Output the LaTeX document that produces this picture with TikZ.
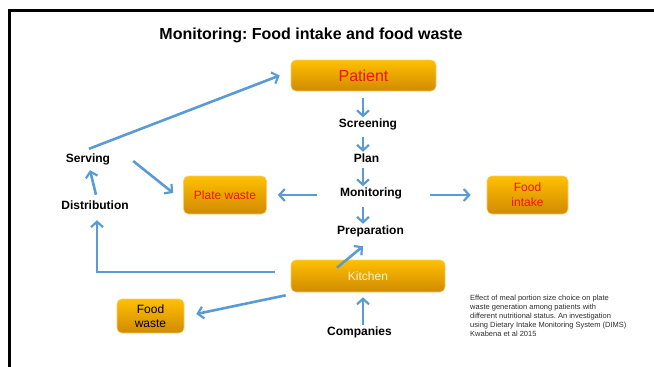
\documentclass[tikz,border=0pt]{standalone}
\usepackage{fontspec}
\setmainfont{Liberation Sans}
\usetikzlibrary{arrows.meta}
\frenchspacing

\definecolor{arrowblue}{RGB}{91,155,213}
\definecolor{boxtop}{RGB}{255,192,0}
\definecolor{boxbottom}{RGB}{208,138,0}
\definecolor{boxline}{RGB}{248,205,110}
\definecolor{boxred}{RGB}{240,20,10}
\definecolor{kitchentext}{RGB}{255,242,210}
\definecolor{refgray}{RGB}{45,45,45}

\begin{document}
\begin{tikzpicture}[x=1pt,y=-1pt,
  box/.style={draw=boxline, line width=0.6pt, rounded corners=5pt,
    top color=boxtop, bottom color=boxbottom, inner sep=0pt, align=center,
    font=\fontsize{12}{15}\selectfont},
  label/.style={inner sep=0pt, text height=9pt, text depth=3pt,
    font=\fontsize{12}{14}\selectfont\bfseries},
  flow/.style={draw=arrowblue, line width=2.6pt,
    -{Straight Barb[length=5.5pt,width=12pt,line width=2.2pt]}}]
  \useasboundingbox (0,0) rectangle (654,367);
  % frame of the slide
  \draw[line width=3pt] (9,367) -- (9,10.7) -- (654,10.7);

  \node[font=\fontsize{16}{19}\selectfont\bfseries] (title) at (311,35) {Monitoring: Food intake and food waste};

  % boxes
  \node[box, minimum width=145pt, minimum height=31pt, text=boxred, font=\fontsize{16}{19}\selectfont] (patient) at (363.5,75.5) {Patient};
  \node[box, minimum width=83pt, minimum height=38pt, text=boxred] (platewaste) at (225,195) {Plate waste};
  \node[box, minimum width=81pt, minimum height=38pt, text=boxred] (intake) at (527.5,195) {Food\\intake};
  \node[box, minimum width=154pt, minimum height=32pt, text=kitchentext] (kitchen) at (368,276) {Kitchen};
  \node[box, minimum width=67pt, minimum height=34pt, font=\fontsize{12}{13.5}\selectfont] (foodwaste) at (150.5,316) {Food\\waste};

  % plain labels
  \node[label] (screening) at (368,124.5) {Screening};
  \node[label] (plan) at (366.5,159) {Plan};
  \node[label] (monitoring) at (371,193.5) {Monitoring};
  \node[label] (prep) at (370.5,231.5) {Preparation};
  \node[label] (serving) at (88,159) {Serving};
  \node[label] (distribution) at (95,206) {Distribution};
  \node[label] (companies) at (359.5,332.5) {Companies};

  \node[anchor=north west, inner sep=0pt, align=left, text=refgray,
    font=\fontsize{7.5}{9}\selectfont] (ref) at (470,294.5)
    {Effect of meal portion size choice on plate\\
     waste generation among patients with\\
     different nutritional status. An investigation\\
     using Dietary Intake Monitoring System (DIMS)\\
     Kwabena et al 2015};

  % central column
  \draw[flow] ([xshift=-0.5pt,yshift=-7pt]patient.south) -- ([xshift=-5pt,yshift=1pt]screening.north);
  \draw[flow] ([xshift=-5pt,yshift=-6pt]screening.south) -- ([xshift=-3.5pt,yshift=1pt]plan.north);
  \draw[flow] ([xshift=-3.5pt,yshift=-3pt]plan.south) -- ([xshift=-8pt,yshift=1pt]monitoring.north);
  \draw[flow] ([xshift=-8pt,yshift=-7pt]monitoring.south) -- ([xshift=-7.5pt,yshift=1.5pt]prep.north);
  \draw[flow] ([xshift=-23pt,yshift=-1.5pt]monitoring.west) -- ([xshift=11pt]platewaste.east);
  \draw[flow] ([xshift=28pt,yshift=-1.5pt]monitoring.east) -- ([xshift=-16pt]intake.west);

  % kitchen side
  \draw[flow] ([xshift=-31pt,yshift=-8pt]kitchen.north) -- ([xshift=-7.5pt,yshift=-8.5pt]prep.south);
  \draw[flow] ([xshift=-16pt,yshift=4pt]kitchen.west) -| ([xshift=2pt,yshift=-8pt]distribution.south);
  \draw[flow] ([xshift=-5pt,yshift=-3pt]kitchen.south west) -- ([xshift=12pt,yshift=2pt]foodwaste.east);
  \draw[flow] ([xshift=3.5pt,yshift=1.5pt]companies.north) -- ([xshift=-5pt,yshift=-5pt]kitchen.south);

  % serving loop
  \draw[flow] ([xshift=1pt,yshift=5pt]distribution.north) -- ([xshift=2pt,yshift=-5pt]serving.south);
  \draw[flow] ([xshift=1pt,yshift=4pt]serving.north) -- ([xshift=-11pt]patient.west);
  \draw[flow] ([xshift=23pt,yshift=-2pt]serving.east) -- ([xshift=-10pt,yshift=2pt]platewaste.west);
\end{tikzpicture}
\end{document}
